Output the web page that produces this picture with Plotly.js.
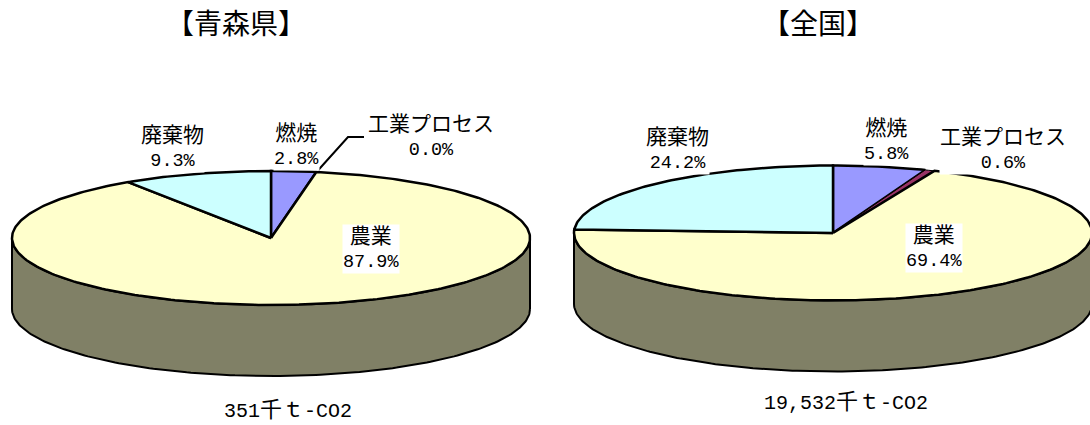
<!DOCTYPE html>
<html>
<head>
<meta charset="utf-8">
<script src="https://cdn.plot.ly/plotly-3.0.1.min.js"></script>
<style>html,body{margin:0;padding:0;background:#fff}</style>
</head>
<body>
<div id="chart" style="width:1090px;height:425px"></div>
<script>
// Greenhouse-gas emission shares, drawn clockwise from twelve o'clock.
const categories = ['燃焼', '工業プロセス', '農業', '廃棄物'];
const aomoriValues = [2.8, 0.0, 87.9, 9.3];
const zenkokuValues = [5.8, 0.6, 69.4, 24.2];
const panelTitles = ['【青森県】', '【全国】'];
const totalAmounts = ['351', '19,532'];
const totalUnit = '千ｔ';
const totalGas = '-CO2';

const sliceColors = ['#9999FF', '#993366', '#FFFFCC', '#CCFFFF'];
const sideColor = '#808066';
const fontFamily = '"Liberation Mono","Noto Sans CJK JP",monospace';
const cjkSize = 21, latinSize = 18.5;

// Disc geometry in canvas pixels.
const discs = [
  {cx: 271, cy: 238, rx: 259, ry: 67, depth: 71,
   labels: [[296, 146], [431, 137], [371, 249], [172, 148]],
   title: [236, 25], total: [288, 411]},
  {cx: 833, cy: 233, rx: 259, ry: 67.5, depth: 71,
   labels: [[886, 141], [1003, 150], [934, 248], [677, 150]],
   title: [818, 25], total: [846, 403]}
];

const pointAt = (d, deg) => {
  const t = deg * Math.PI / 180;
  return [d.cx + d.rx * Math.sin(t), d.cy - d.ry * Math.cos(t)];
};

function arc(d, from, to) {
  const n = Math.max(2, Math.ceil(Math.abs(to - from)));
  const pts = [];
  for (let i = 0; i <= n; i++) pts.push(pointAt(d, from + (to - from) * i / n));
  return pts;
}

function filled(pts, color, width) {
  return {
    x: pts.map(p => p[0]), y: pts.map(p => p[1]),
    mode: 'lines', fill: 'toself', fillcolor: color,
    line: {color: '#000', width: width}, hoverinfo: 'skip', showlegend: false
  };
}

function discTraces(d, values) {
  const traces = [];
  // Cylinder wall beneath the front half of the rim; the outline is closed.
  const lowerFront = arc(d, 90, 270).map(p => [p[0], p[1] + d.depth]);
  const upperFront = arc(d, 270, 90);
  traces.push(filled(lowerFront.concat(upperFront, [lowerFront[0]]), sideColor, 2));
  // Top face: one wedge per category.
  let start = 0;
  values.forEach((v, i) => {
    const sweep = v * 3.6;
    if (sweep > 0) {
      const pts = [[d.cx, d.cy]].concat(arc(d, start, start + sweep), [[d.cx, d.cy]]);
      traces.push(filled(pts, sliceColors[i], i === 1 ? 1 : 2.5));
    }
    start += sweep;
  });
  return traces;
}

function sliceLabels(d, values) {
  return categories.map((name, i) => ({
    x: d.labels[i][0], y: d.labels[i][1], xref: 'x', yref: 'y',
    text: '<span style="font-size:' + cjkSize + 'px">' + name + '</span><br>' +
          values[i].toFixed(1) + '%',
    showarrow: false, bgcolor: '#fff', borderpad: 0, align: 'center',
    font: {family: fontFamily, size: latinSize, color: '#000'}
  }));
}

function titleText(pos, text) {
  return {x: pos[0], y: pos[1], xref: 'x', yref: 'y', text: text, showarrow: false,
    font: {family: fontFamily, size: 28, color: '#000'}};
}

function totalText(pos, amount) {
  return {x: pos[0], y: pos[1], xref: 'x', yref: 'y', showarrow: false,
    text: amount + '<span style="font-size:22px">' + totalUnit + '</span>' + totalGas,
    font: {family: fontFamily, size: 20, color: '#000'}};
}

const traces = [
  ...discTraces(discs[0], aomoriValues),
  ...discTraces(discs[1], zenkokuValues)
];

// Leader from the zero-width Aomori slice up to its label.
const aomoriAngle = (aomoriValues[0] + aomoriValues[1]) * 3.6;
const rim = pointAt(discs[0], aomoriAngle);
traces.push({
  x: [rim[0] + 2, 348, 364], y: [rim[1] - 2, 137, 137], mode: 'lines',
  line: {color: '#000', width: 2}, hoverinfo: 'skip', showlegend: false
});

const annotations = [
  ...sliceLabels(discs[0], aomoriValues),
  ...sliceLabels(discs[1], zenkokuValues),
  titleText(discs[0].title, panelTitles[0]),
  titleText(discs[1].title, panelTitles[1]),
  totalText(discs[0].total, totalAmounts[0]),
  totalText(discs[1].total, totalAmounts[1])
];

const hidden = {visible: false, fixedrange: true};
Plotly.newPlot('chart', traces, {
  width: 1090, height: 425,
  margin: {l: 0, r: 0, t: 0, b: 0},
  paper_bgcolor: '#fff', plot_bgcolor: '#fff',
  xaxis: {...hidden, range: [0, 1090]},
  yaxis: {...hidden, range: [425, 0]},
  annotations: annotations,
  showlegend: false
}, {displayModeBar: false, staticPlot: true});
</script>
</body>
</html>
